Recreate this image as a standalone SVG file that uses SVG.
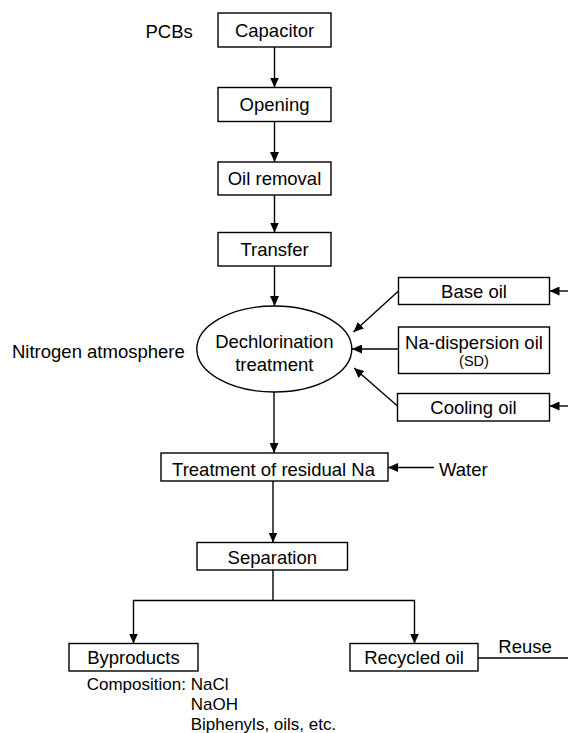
<svg xmlns="http://www.w3.org/2000/svg" width="568" height="733" viewBox="0 0 568 733">
<defs>
<marker id="ah" markerUnits="userSpaceOnUse" markerWidth="10" markerHeight="9" refX="10" refY="4.5" orient="auto">
<path d="M0,0 L10,4.5 L0,9 Z" fill="#000"/>
</marker>
</defs>
<style>
.b{fill:#fff;stroke:#000;stroke-width:1.4}
.t{font-family:"Liberation Sans",Arial,sans-serif;font-size:18.5px;fill:#000}
.m{text-anchor:middle}
.s{font-size:14.5px}
.c{font-size:17px}
.l{fill:none;stroke:#000;stroke-width:1.4}
.a{marker-end:url(#ah)}
</style>
<rect width="568" height="733" fill="#fff"/>
<g id="connectors">
<line class="l a" x1="274.5" y1="47" x2="274.5" y2="87.5"/>
<line class="l a" x1="274.5" y1="121.5" x2="274.5" y2="162"/>
<line class="l a" x1="274.5" y1="195" x2="274.5" y2="232.5"/>
<line class="l a" x1="274.5" y1="266" x2="274.5" y2="306"/>
<line class="l a" x1="274" y1="392" x2="274" y2="453"/>
<line class="l a" x1="434" y1="467.5" x2="388" y2="467.5"/>
<line class="l a" x1="273" y1="481" x2="273" y2="542.5"/>
<polyline class="l" points="273,570 273,600.5"/>
<polyline class="l a" points="273,600.5 133.5,600.5 133.5,643.5"/>
<polyline class="l a" points="273,600.5 414.5,600.5 414.5,643.5"/>
<line class="l" x1="478" y1="658" x2="568" y2="658"/>
<line class="l a" x1="568" y1="291" x2="549.5" y2="291"/>
<line class="l a" x1="568" y1="406" x2="549.5" y2="406"/>
<line class="l a" x1="398.5" y1="291" x2="353.5" y2="332"/>
<line class="l a" x1="398.5" y1="349" x2="352" y2="349"/>
<line class="l a" x1="397.5" y1="406" x2="354" y2="368"/>
</g>
<g id="pcbs"><text class="t" x="145.5" y="38">PCBs</text></g>
<g id="capacitor"><rect class="b" x="218" y="13" width="113" height="34"/><text class="t m" x="274.5" y="36.5">Capacitor</text></g>
<g id="opening"><rect class="b" x="218" y="87.5" width="113" height="34"/><text class="t m" x="274.5" y="110.5">Opening</text></g>
<g id="oil-removal"><rect class="b" x="218" y="162" width="113" height="33"/><text class="t m" x="274.5" y="185.3">Oil removal</text></g>
<g id="transfer"><rect class="b" x="218" y="232.5" width="113" height="33.5"/><text class="t m" x="274.5" y="256">Transfer</text></g>
<g id="nitrogen"><text class="t" x="12" y="357.5">Nitrogen atmosphere</text></g>
<g id="dechlorination"><ellipse class="b" cx="274.3" cy="349" rx="77.5" ry="43"/><text class="t m" x="274.3" y="348.3">Dechlorination</text><text class="t m" x="274.3" y="371">treatment</text></g>
<g id="base-oil"><rect class="b" x="398.5" y="277.5" width="151" height="27"/><text class="t m" x="474" y="298">Base oil</text></g>
<g id="na-dispersion"><rect class="b" x="398.5" y="327" width="151" height="46.5"/><text class="t m" x="474" y="349.3">Na-dispersion oil</text><text class="t m s" x="474" y="366">(SD)</text></g>
<g id="cooling-oil"><rect class="b" x="397.5" y="393.5" width="152" height="27.5"/><text class="t m" x="473.5" y="414">Cooling oil</text></g>
<g id="residual-na"><rect class="b" x="161" y="453" width="227" height="28"/><text class="t m" x="273.5" y="475.5">Treatment of residual Na</text></g>
<g id="water"><text class="t" x="439" y="476">Water</text></g>
<g id="separation"><rect class="b" x="197" y="542.5" width="150.5" height="27.5"/><text class="t m" x="272.3" y="563.5">Separation</text></g>
<g id="byproducts"><rect class="b" x="69" y="643.5" width="129" height="27.5"/><text class="t m" x="133.5" y="664">Byproducts</text></g>
<g id="composition"><text class="t c" x="86.7" y="689.5">Composition:</text><text class="t c" x="190.7" y="689.5">NaCl</text><text class="t c" x="190.7" y="709.5">NaOH</text><text class="t c" x="190.7" y="730">Biphenyls, oils, etc.</text></g>
<g id="recycled-oil"><rect class="b" x="350" y="643.5" width="128" height="27.5"/><text class="t m" x="414" y="664">Recycled oil</text></g>
<g id="reuse"><text class="t" x="498.3" y="652.7">Reuse</text></g>
</svg>
